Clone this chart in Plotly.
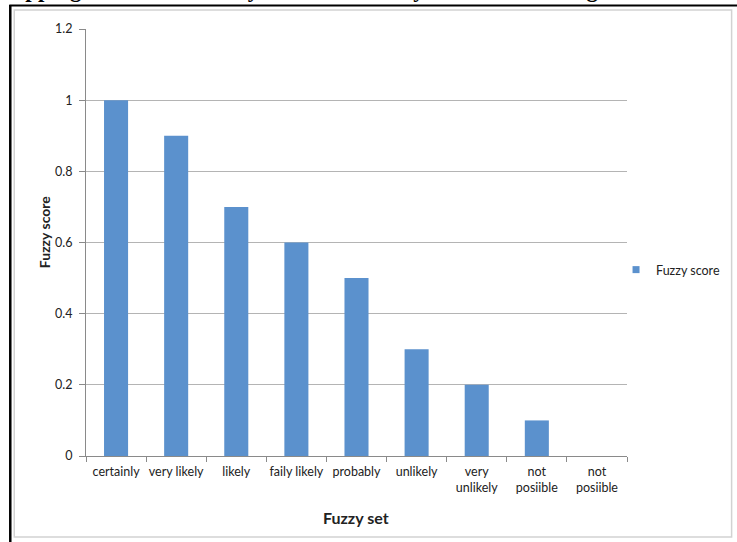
import plotly.graph_objects as go

# Fuzzy set categories and their scores
categories = ["certainly", "very likely", "likely", "faily likely", "probably",
              "unlikely", "very<br>unlikely", "not<br>posiible", "not<br>posiible"]
scores = [1.0, 0.9, 0.7, 0.6, 0.5, 0.3, 0.2, 0.1, 0.0]
y_ticks = [0, 0.2, 0.4, 0.6, 0.8, 1.0, 1.2]
y_tick_labels = ["0", "0.2", "0.4", "0.6", "0.8", "1", "1.2"]
series_name = "Fuzzy score"

W, H = 737, 542
L, R, T, B = 86, 108, 29, 86
PW, PH = W - L - R, H - T - B

def px(x):  # pixel -> paper x
    return (x - L) / PW

def py(y):  # pixel (from top) -> paper y
    return (H - B - y) / PH

positions = list(range(len(categories)))
bar_color = "#5B91CD"
font = "Lato, Open Sans, sans-serif"
ink = "#222222"

fig = go.Figure()
fig.add_trace(go.Bar(
    x=positions, y=scores, name=series_name, showlegend=False,
    marker=dict(color=bar_color, line=dict(width=0)),
    width=0.4,
))
# legend entry with a small square key
fig.add_trace(go.Scatter(
    x=[None], y=[None], mode="markers", name=series_name,
    marker=dict(symbol="square", size=7, color=bar_color),
))

fig.update_layout(
    width=W, height=H,
    margin=dict(l=L, r=R, t=T, b=B),
    paper_bgcolor="white", plot_bgcolor="white",
    font=dict(family=font, size=12.5, color=ink),
    showlegend=True,
    legend=dict(x=px(618), y=py(270), xanchor="left", yanchor="middle",
                font=dict(family=font, size=12.5, color=ink),
                itemwidth=30, bgcolor="rgba(0,0,0,0)",
                borderwidth=0, tracegroupgap=0),
    xaxis=dict(
        range=[-0.5, len(categories) - 0.5],
        tickmode="array", tickvals=positions, ticktext=categories,
        ticks="", showgrid=False, zeroline=False,
        showline=True, linecolor="#8a8a8a", linewidth=1,
        tickfont=dict(family=font, size=12.5, color=ink),
        ticklabelstandoff=4,
        minor=dict(tickvals=[p + 0.5 for p in positions[:-1]] + [-0.5, len(categories) - 0.5],
                   ticks="outside", ticklen=5, tickcolor="#8a8a8a", showgrid=False),
    ),
    yaxis=dict(
        range=[0, 1.2], tickmode="array", tickvals=y_ticks, ticktext=y_tick_labels,
        ticks="outside", ticklen=6, tickcolor="#8a8a8a",
        showgrid=True, gridcolor="#b4b4b4", gridwidth=1,
        zeroline=False, showline=True, linecolor="#8a8a8a", linewidth=1,
        tickfont=dict(family=font, size=12.5, color=ink),
        ticklabelstandoff=4,
    ),
)

# Axis titles
fig.add_annotation(text="<b>Fuzzy score</b>", textangle=-90, x=px(44), y=py(232),
                   xref="paper", yref="paper", xanchor="center", yanchor="middle",
                   showarrow=False, font=dict(family=font, size=14, color=ink))
fig.add_annotation(text="<b>Fuzzy set</b>", x=px(357), y=py(517),
                   xref="paper", yref="paper", xanchor="center", yanchor="middle",
                   showarrow=False, font=dict(family=font, size=16, color=ink))

# Heading of the page, mostly above the visible area
fig.add_annotation(text="<b>Mapping of the Probability Scale into Fuzzy Set Based Rating</b>",
                   x=px(-10), y=py(0), xref="paper", yref="paper",
                   xanchor="left", yanchor="bottom", yshift=-4, showarrow=False,
                   font=dict(family="Liberation Serif, serif", size=23, color="black"))

# Outer frame and chart border
fig.add_shape(type="rect", xref="paper", yref="paper",
              x0=px(14), x1=px(734), y0=py(537), y1=py(10),
              line=dict(color="#d2d2d2", width=1.5), layer="below")
fig.add_shape(type="line", xref="paper", yref="paper",
              x0=px(10), x1=px(10), y0=py(5), y1=py(545),
              line=dict(color="black", width=2.5))
fig.add_shape(type="line", xref="paper", yref="paper",
              x0=px(9), x1=px(740), y0=py(5.5), y1=py(5.5),
              line=dict(color="black", width=2))

fig.write_html("out.html")
